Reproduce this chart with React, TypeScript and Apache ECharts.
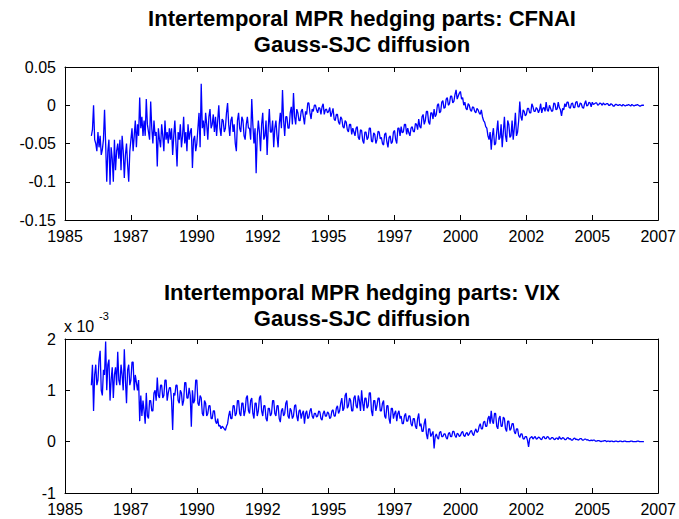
import React, { useEffect, useRef } from "react";
import * as echarts from "echarts";

// semi-monthly observations starting January 1986
const startYear = 1986;
const stepsPerYear = 24;

const cfnaiHedging: number[] = [
  -0.04, -0.032, 0.0, -0.045, -0.05, -0.06, -0.035, -0.055, -0.04, -0.065, -0.058, -0.045, -0.006, -0.05, -0.1, -0.06, -0.045, -0.104, -0.055, -0.07, -0.1, -0.045, -0.085, -0.06,
  -0.05, -0.07, -0.045, -0.085, -0.04, -0.06, -0.095, -0.065, -0.05, -0.078, -0.1, -0.06, -0.045, -0.03, -0.06, -0.04, -0.02, -0.055, -0.025, -0.04, 0.01, -0.03, -0.015, -0.04,
  -0.02, -0.04, 0.008, -0.025, -0.035, -0.045, 0.005, -0.03, -0.05, -0.02, -0.04, -0.035, -0.08, -0.03, -0.045, -0.055, -0.025, -0.04, -0.06, -0.02, -0.045, -0.035, -0.05, -0.03,
  -0.045, -0.03, -0.065, -0.04, -0.02, -0.05, -0.08, -0.035, -0.045, -0.025, -0.055, -0.04, -0.015, -0.05, -0.035, -0.06, -0.025, -0.045, -0.035, -0.03, -0.082, -0.045, -0.04, -0.06,
  -0.05, -0.03, -0.01, -0.055, 0.028, -0.03, -0.02, -0.04, -0.01, -0.025, -0.045, -0.015, -0.005, -0.03, -0.025, -0.012, -0.035, -0.015, -0.04, -0.02, 0.0, -0.03, -0.04, -0.018,
  -0.02, -0.035, -0.03, -0.01, 0.003, -0.025, -0.04, -0.02, -0.015, -0.035, -0.025, -0.05, -0.06, -0.02, -0.01, -0.03, -0.035, -0.015, -0.02, -0.04, -0.045, -0.025, -0.015, -0.03,
  -0.03, -0.045, 0.008, -0.025, -0.05, -0.03, -0.089, -0.04, -0.02, -0.035, -0.06, -0.025, -0.01, -0.045, -0.04, -0.02, -0.065, -0.03, -0.005, -0.035, -0.035, -0.02, -0.055, -0.03,
  -0.02, -0.04, -0.055, -0.025, -0.01, -0.03, 0.02, -0.02, -0.04, -0.015, -0.015, -0.03, -0.03, -0.01, -0.002, -0.025, 0.016, -0.015, -0.025, -0.005, -0.01, -0.02, -0.02, -0.008,
  -0.005, -0.015, -0.025, -0.008, -0.012, 0.003, 0.003, -0.01, -0.018, -0.005, -0.008, 0.0, 0.0, -0.006, -0.01, -0.003, -0.004, -0.012, -0.002, 0.002, -0.012, -0.006, -0.005, -0.01,
  -0.008, -0.003, -0.015, -0.01, -0.004, -0.018, -0.02, -0.012, -0.012, -0.022, -0.025, -0.015, -0.018, -0.028, -0.03, -0.02, -0.022, -0.032, -0.035, -0.025, -0.025, -0.038, -0.03, -0.035,
  -0.04, -0.03, -0.028, -0.042, -0.045, -0.032, -0.033, -0.046, -0.05, -0.035, -0.035, -0.045, -0.042, -0.03, -0.03, -0.047, -0.048, -0.036, -0.038, -0.05, -0.045, -0.034, -0.035, -0.044,
  -0.042, -0.05, -0.052, -0.038, -0.036, -0.048, -0.055, -0.042, -0.04, -0.05, -0.048, -0.035, -0.033, -0.045, -0.05, -0.03, -0.03, -0.04, -0.028, -0.036, -0.035, -0.025, -0.025, -0.038,
  -0.03, -0.036, -0.04, -0.03, -0.028, -0.034, -0.035, -0.024, -0.025, -0.032, -0.018, -0.028, -0.03, -0.015, -0.012, -0.025, -0.02, -0.008, -0.008, -0.022, -0.025, -0.01, -0.01, -0.018,
  -0.005, -0.015, -0.012, 0.0, 0.002, -0.01, -0.008, 0.004, 0.006, -0.004, -0.003, 0.008, 0.01, 0.0, 0.002, 0.012, 0.012, 0.003, 0.005, 0.014, 0.02, 0.008, 0.012, 0.016,
  0.018, 0.008, 0.01, 0.0, 0.004, -0.004, -0.006, 0.002, 0.0, -0.006, -0.008, -0.002, -0.003, -0.008, -0.01, -0.004, -0.006, -0.01, -0.012, -0.006, -0.015, -0.02, -0.022, -0.028,
  -0.03, -0.04, -0.045, -0.035, -0.058, -0.04, -0.03, -0.052, -0.05, -0.035, -0.02, -0.045, -0.042, -0.025, -0.055, -0.035, -0.015, -0.04, -0.048, -0.02, -0.025, -0.042, -0.04, -0.02,
  -0.045, -0.03, -0.01, -0.04, -0.035, -0.02, 0.005, -0.015, -0.02, -0.006, -0.008, -0.014, -0.012, -0.004, -0.004, -0.01, -0.01, 0.002, -0.002, -0.008, -0.008, -0.003, -0.005, -0.01,
  -0.006, 0.002, -0.01, -0.004, -0.003, -0.008, 0.004, -0.006, -0.008, 0.0, -0.004, -0.008, -0.007, 0.003, 0.002, -0.006, -0.005, 0.004, -0.003, -0.006, -0.014, -0.004, -0.006, 0.002,
  -0.002, 0.004, 0.004, -0.003, -0.004, 0.002, 0.003, -0.003, -0.003, 0.004, 0.005, -0.002, -0.002, 0.003, 0.002, -0.003, -0.004, 0.002, 0.006, -0.001, 0.0, 0.004, 0.003, -0.002,
  0.004, 0.001, 0.002, 0.003, 0.003, 0.0, 0.001, 0.003, 0.002, 0.0, 0.003, 0.001, 0.001, 0.002, 0.002, 0.0, 0.0, 0.002, 0.001, -0.001, -0.001, 0.001, 0.001, 0.0,
  0.0, 0.001, 0.0, -0.001, 0.001, 0.0, -0.001, 0.0, 0.0, 0.001, 0.0, -0.001, 0.001, 0.0, -0.001, 0.0, 0.0, 0.001, 0.0, -0.001, -0.001, 0.0, 0.0, 0.0,
];

// values in units of 1e-3
const vixHedgingE3: number[] = [
  1.1, 1.5, 0.6, 1.3, 1.5, 1.1, 1.2, 1.6, 1.77, 1.0, 0.9, 1.4, 1.3, 1.95, 1.0, 1.5, 1.6, 0.8, 1.2, 1.45, 0.85, 1.3, 1.45, 1.1,
  1.75, 1.2, 1.1, 1.5, 1.3, 1.0, 1.8, 1.2, 0.75, 1.4, 1.5, 1.1, 1.2, 1.55, 1.55, 1.0, 1.3, 1.15, 1.0, 1.2, 0.4, 0.9, 0.5, 0.8,
  0.6, 0.35, 0.95, 0.5, 0.45, 0.8, 0.8, 0.6, 0.6, 0.95, 1.0, 0.8, 1.25, 0.9, 0.85, 1.1, 1.1, 0.85, 0.9, 1.2, 1.2, 0.8, 0.95, 1.05,
  1.05, 0.8, 0.23, 0.95, 0.9, 1.1, 1.1, 0.8, 0.75, 1.0, 0.95, 0.7, 0.8, 1.15, 1.15, 0.85, 0.85, 1.05, 0.9, 0.29, 1.0, 0.75, 0.8, 1.2,
  1.2, 0.75, 0.7, 0.9, 0.85, 0.55, 0.5, 0.8, 0.75, 0.5, 0.55, 0.7, 0.7, 0.45, 0.45, 0.6, 0.6, 0.4, 0.35, 0.45, 0.3, 0.32, 0.25, 0.3,
  0.28, 0.25, 0.22, 0.3, 0.35, 0.5, 0.6, 0.45, 0.45, 0.7, 0.7, 0.5, 0.55, 0.8, 0.8, 0.55, 0.5, 0.75, 0.75, 0.5, 0.6, 0.85, 0.9, 0.6,
  0.55, 0.8, 0.85, 0.55, 0.45, 0.75, 0.75, 0.5, 0.6, 0.85, 0.9, 0.6, 0.5, 0.7, 0.7, 0.45, 0.4, 0.65, 0.65, 0.5, 0.55, 0.8, 0.8, 0.55,
  0.5, 0.7, 0.7, 0.45, 0.38, 0.6, 0.65, 0.5, 0.55, 0.75, 0.8, 0.5, 0.45, 0.65, 0.6, 0.45, 0.5, 0.7, 0.72, 0.5, 0.4, 0.6, 0.62, 0.45,
  0.55, 0.6, 0.35, 0.55, 0.6, 0.45, 0.48, 0.6, 0.65, 0.5, 0.45, 0.55, 0.55, 0.48, 0.5, 0.6, 0.58, 0.45, 0.42, 0.55, 0.6, 0.5, 0.5, 0.58,
  0.55, 0.45, 0.48, 0.6, 0.62, 0.5, 0.5, 0.65, 0.7, 0.55, 0.6, 0.75, 0.85, 0.6, 0.65, 0.9, 0.95, 0.65, 0.7, 0.85, 0.8, 0.6, 0.6, 0.85,
  0.9, 0.7, 0.65, 0.9, 0.8, 0.6, 1.0, 0.75, 0.6, 0.85, 0.85, 0.65, 0.7, 0.95, 0.95, 0.6, 0.5, 0.8, 0.8, 0.6, 0.7, 0.85, 0.85, 0.6,
  0.6, 0.75, 0.8, 0.5, 0.45, 0.7, 0.7, 0.45, 0.35, 0.65, 0.65, 0.45, 0.55, 0.6, 0.4, 0.55, 0.6, 0.45, 0.5, 0.35, 0.35, 0.5, 0.55, 0.4,
  0.4, 0.5, 0.5, 0.35, 0.3, 0.45, 0.45, 0.3, 0.25, 0.45, 0.55, 0.3, 0.35, 0.2, 0.2, 0.35, 0.45, 0.15, 0.05, 0.25, 0.25, 0.1, 0.15, 0.2,
  -0.13, 0.1, 0.15, 0.08, 0.05, 0.18, 0.2, 0.1, 0.1, 0.15, 0.15, 0.08, 0.05, 0.15, 0.18, 0.1, 0.1, 0.2, 0.2, 0.12, 0.08, 0.16, 0.15, 0.1,
  0.12, 0.18, 0.2, 0.12, 0.1, 0.16, 0.18, 0.12, 0.15, 0.2, 0.22, 0.15, 0.12, 0.2, 0.25, 0.18, 0.2, 0.3, 0.35, 0.25, 0.25, 0.38, 0.4, 0.3,
  0.3, 0.45, 0.5, 0.35, 0.6, 0.4, 0.35, 0.55, 0.55, 0.3, 0.25, 0.45, 0.5, 0.3, 0.3, 0.48, 0.45, 0.25, 0.2, 0.4, 0.4, 0.22, 0.25, 0.35,
  0.35, 0.2, 0.15, 0.25, 0.25, 0.12, 0.08, 0.15, 0.15, 0.06, 0.05, 0.1, 0.1, 0.03, -0.1, 0.06, 0.08, 0.1, 0.05, 0.08, 0.1, 0.05, 0.06, 0.09,
  0.08, 0.05, 0.04, 0.09, 0.1, 0.06, 0.06, 0.1, 0.09, 0.05, 0.05, 0.08, 0.08, 0.05, 0.04, 0.07, 0.07, 0.04, 0.1, 0.06, 0.05, 0.08, 0.07, 0.04,
  0.04, 0.07, 0.08, 0.05, 0.06, 0.03, 0.03, 0.06, 0.07, 0.04, 0.05, 0.03, 0.04, 0.06, 0.06, 0.03, 0.03, 0.05, 0.05, 0.03, 0.04, 0.02, 0.02, 0.03,
  0.02, 0.03, 0.03, 0.01, 0.01, 0.02, 0.02, 0.01, 0.0, 0.01, 0.01, 0.02, 0.02, 0.0, 0.01, 0.01, 0.0, 0.01, 0.01, 0.0, 0.0, 0.01, 0.01, 0.0,
  0.0, 0.01, 0.01, 0.0, 0.0, 0.01, 0.01, 0.0, 0.0, 0.0, 0.0, 0.01, 0.01, 0.0, 0.0, 0.0, 0.0, 0.01, 0.01, 0.0, 0.0, 0.0, 0.0, 0.0,
];

const titles1 = ["Intertemporal MPR hedging parts: CFNAI", "Gauss-SJC diffusion"];
const titles2 = ["Intertemporal MPR hedging parts: VIX", "Gauss-SJC diffusion"];
const xMin = 1985;
const xMax = 2007.5;
const xInterval = 2.5;
const y1 = { min: -0.15, max: 0.05, interval: 0.05 };
const y2 = { min: -1, max: 2, interval: 1 };

const FONT = "'Liberation Sans', Arial, Helvetica, sans-serif";

export default function App() {
  const ref = useRef<HTMLDivElement>(null);
  useEffect(() => {
    if (!ref.current) return;
    const chart = echarts.init(ref.current, undefined, { renderer: "svg" });
    const toPairs = (arr: number[]) => arr.map((v, i) => [startYear + i / stepsPerYear, v]);

    const gridLeft = 65;
    const gridRight = 20;
    const grids = [
      { left: gridLeft, right: gridRight, top: 67, height: 153 },
      { left: gridLeft, right: gridRight, top: 339, height: 154 },
    ];
    const axisLine = { show: true, onZero: false, lineStyle: { color: "#000", width: 1 } };
    const tick = { show: true, inside: true, length: 5, lineStyle: { color: "#000", width: 1 } };
    const label = { color: "#000", fontSize: 16, fontFamily: FONT };

    const xAxes: any[] = [];
    const yAxes: any[] = [];
    [0, 1].forEach((g) => {
      xAxes.push({
        type: "value", gridIndex: g, position: "bottom", min: xMin, max: xMax, interval: xInterval,
        axisLine, axisTick: tick, splitLine: { show: false },
        axisLabel: { ...label, margin: 8, formatter: (v: number) => String(Math.floor(v)) },
      });
      xAxes.push({
        type: "value", gridIndex: g, position: "top", min: xMin, max: xMax, interval: xInterval,
        axisLine, axisTick: tick, splitLine: { show: false }, axisLabel: { show: false },
      });
      const yr = g === 0 ? y1 : y2;
      yAxes.push({
        type: "value", gridIndex: g, position: "left", min: yr.min, max: yr.max, interval: yr.interval,
        axisLine, axisTick: tick, splitLine: { show: false }, axisLabel: { ...label, margin: 9 },
      });
      yAxes.push({
        type: "value", gridIndex: g, position: "right", min: yr.min, max: yr.max, interval: yr.interval,
        axisLine, axisTick: tick, splitLine: { show: false }, axisLabel: { show: false },
      });
    });

    const cx = gridLeft + (679 - gridLeft - gridRight) / 2;
    const titleFont = `bold 22px ${FONT}`;
    const mkTitle = (text: string, y: number) => ({
      type: "text", x: cx, y,
      style: { text, font: titleFont, fill: "#000", textAlign: "center", textVerticalAlign: "middle" },
    });

    chart.setOption({
      animation: false,
      backgroundColor: "#fff",
      grid: grids,
      xAxis: xAxes,
      yAxis: yAxes,
      series: [
        {
          type: "line", xAxisIndex: 0, yAxisIndex: 0, data: toPairs(cfnaiHedging),
          showSymbol: false, lineStyle: { color: "#0000ff", width: 1.3 }, itemStyle: { color: "#0000ff" },
        },
        {
          type: "line", xAxisIndex: 2, yAxisIndex: 2, data: toPairs(vixHedgingE3),
          showSymbol: false, lineStyle: { color: "#0000ff", width: 1.3 }, itemStyle: { color: "#0000ff" },
        },
      ],
      graphic: [
        mkTitle(titles1[0], 18),
        mkTitle(titles1[1], 44),
        mkTitle(titles2[0], 292),
        mkTitle(titles2[1], 318),
        { type: "text", x: 64, y: 326, style: { text: "x 10", font: `16px ${FONT}`, fill: "#000", textVerticalAlign: "middle" } },
        { type: "text", x: 99, y: 316, style: { text: "-3", font: `11px ${FONT}`, fill: "#000", textVerticalAlign: "middle" } },
      ],
    });
    return () => chart.dispose();
  }, []);
  return <div ref={ref} style={{ position: "absolute", left: 0, top: 0, width: 679, height: 519 }} />;
}
